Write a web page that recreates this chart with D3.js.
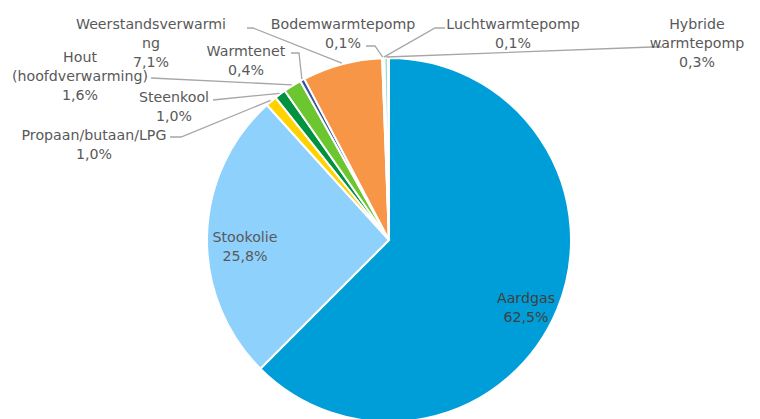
<!DOCTYPE html>
<html lang="nl">
<head>
<meta charset="utf-8">
<title>Verwarming</title>
<script src="https://d3js.org/d3.v7.min.js"></script>
<style>
  body { margin: 0; background: #fff; }
  text { font-family: "DejaVu Sans", Verdana, sans-serif; font-size: 14.2px; fill: #595959; }
</style>
</head>
<body>
<svg id="chart" width="760" height="419"></svg>
<script>
// data, clockwise from 12 o'clock
var categories = ["Aardgas", "Stookolie", "Propaan/butaan/LPG", "Steenkool", "Hout (hoofdverwarming)",
  "Warmtenet", "Weerstandsverwarming", "Bodemwarmtepomp", "Luchtwarmtepomp", "Hybride warmtepomp"];
var values = [62.5, 25.8, 1.0, 1.0, 1.6, 0.4, 7.1, 0.1, 0.1, 0.3];
var labelLines = [["Aardgas"], ["Stookolie"], ["Propaan/butaan/LPG"], ["Steenkool"], ["Hout", "(hoofdverwarming)"],
  ["Warmtenet"], ["Weerstandsverwarmi", "ng"], ["Bodemwarmtepomp"], ["Luchtwarmtepomp"], ["Hybride", "warmtepomp"]];
var colors = ["#009ed8", "#8ed1fc", "#ffd200", "#00923f", "#6cc62f",
  "#3a52a2", "#f79646", "#a6e6df", "#5ecfc4", "#8edcd4"];

// label layout: centre x, first line y, leader start [x,y] and elbow [x,y] (null = inside)
var labelPos = [
  {x: 526, y: 303, lead: null},
  {x: 245, y: 242, lead: null},
  {x: 94,  y: 140, lead: [[170, 137], [181, 137]]},
  {x: 174, y: 102, lead: [[213, 100], [213, 100]]},
  {x: 80,  y: 62,  lead: [[151, 78], [151, 78]]},
  {x: 246, y: 56,  lead: [[291, 53], [299, 53]]},
  {x: 151, y: 29,  lead: [[247, 28], [253, 28]]},
  {x: 343, y: 29,  lead: [[366, 46], [375, 46]]},
  {x: 513, y: 29,  lead: [[445, 28], [435, 28]]},
  {x: 697, y: 29,  lead: [[662, 47], [652, 47]]}
];

var fmt = function(v) { return v.toFixed(1).replace(".", ",") + "%"; };

var svg = d3.select("#chart");
var cx = 389, cy = 240, radius = 182;
var g = svg.append("g").attr("transform", "translate(" + cx + "," + cy + ")");

var pie = d3.pie().sort(null).value(function(d) { return d; }).endAngle(2 * Math.PI * d3.sum(values) / 100);
var arcs = pie(values);
var arc = d3.arc().innerRadius(0).outerRadius(radius);

g.selectAll("path.slice")
  .data(arcs)
  .enter()
  .append("path")
    .attr("class", "slice")
    .attr("d", arc)
    .style("fill", function(d, i) { return colors[i]; })
    .style("stroke", "#fff")
    .style("stroke-width", 2);

// leader lines end on the edge of each slice
arcs.forEach(function(d, i) {
  var p = labelPos[i];
  if (!p.lead) return;
  var a = (d.startAngle + d.endAngle) / 2;
  var r = radius + 1;
  var end = [cx + r * Math.sin(a), cy - r * Math.cos(a)];
  svg.append("polyline")
    .attr("points", [p.lead[0], p.lead[1], end].map(function(q) { return q.join(","); }).join(" "))
    .style("fill", "none")
    .style("stroke", "#a6a6a6")
    .style("stroke-width", 1.3);
});

// labels
labelPos.forEach(function(p, i) {
  var lines = labelLines[i].concat([fmt(values[i])]);
  var t = svg.append("text")
    .attr("text-anchor", "middle")
    .attr("x", p.x)
    .attr("y", p.y)
    .style("fill", i === 0 ? "#404040" : "#595959");
  lines.forEach(function(s, k) {
    t.append("tspan").attr("x", p.x).attr("dy", k === 0 ? 0 : 19).text(s);
  });
});
</script>
</body>
</html>
